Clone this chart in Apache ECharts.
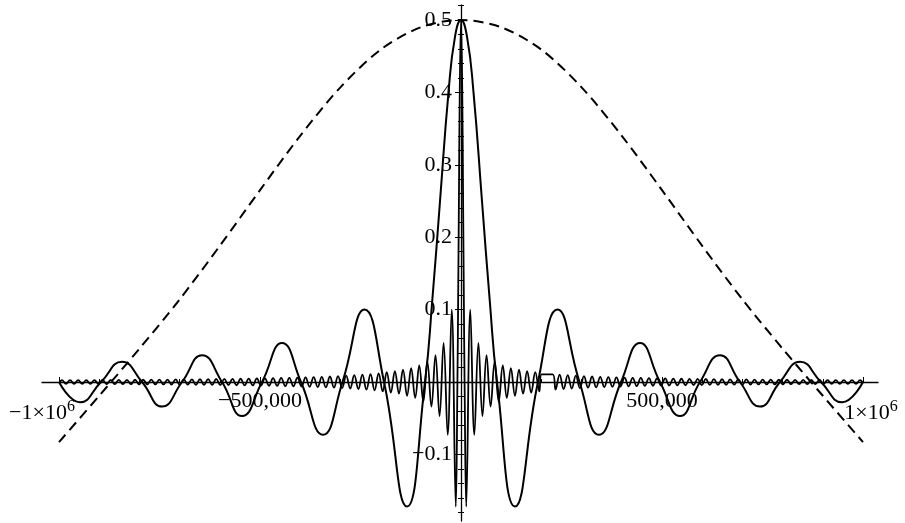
<!DOCTYPE html>
<html>
<head>
<meta charset="utf-8">
<script src="https://cdn.jsdelivr.net/npm/echarts@6/dist/echarts.min.js"></script>
<style>
  html, body { margin: 0; padding: 0; background: #ffffff; }
  #chart { width: 905px; height: 523px; }
</style>
</head>
<body>
<div id="chart"></div>
<script>
// ---- broad dashed curve ----
const dashedX = [-1000000, -900000, -800000, -700000, -600000, -500000, -400000, -300000, -200000, -100000, 0,
                 100000, 200000, 300000, 400000, 500000, 600000, 700000, 800000, 900000, 1000000];
const dashedY = [-0.083, -0.019, 0.046, 0.114, 0.188, 0.265, 0.34, 0.407, 0.459, 0.49, 0.5,
                 0.49, 0.459, 0.407, 0.34, 0.265, 0.188, 0.114, 0.046, -0.019, -0.083];

// ---- medium solid curve ----
const midX = [-1000000, -947800, -895500, -843300, -793500, -743800, -694000, -644300, -594500,
              -544800, -495000, -445300, -398000, -343300, -294800, -240000, -191500, -134300,
              -89600, -71400, -52200, -31100, -14900, 0,
              14900, 31100, 52200, 71400, 89600,
              134300, 191500, 240000, 294800, 343300, 398000, 445300, 495000, 544800,
              594500, 644300, 694000, 743800, 793500, 843300, 895500, 947800, 1000000];
const midY = [0, -0.028, 0, 0.028, 0, -0.034, 0, 0.037, 0,
              -0.047, 0, 0.054, 0, -0.073, 0, 0.1, 0, -0.172,
              0, 0.113, 0.25, 0.4, 0.477, 0.5,
              0.477, 0.4, 0.25, 0.113, 0,
              -0.172, 0, 0.1, 0, -0.073, 0, 0.054, 0, -0.047,
              0, 0.037, 0, -0.034, 0, 0.028, 0, -0.028, 0];

// ---- fast solid curve: central lobe ----
const fastCenterX = [-8900, -7100, -5200, -3100, 0, 3100, 5200, 7100, 8900];
const fastCenterY = [0, 0.113, 0.25, 0.4, 0.5, 0.4, 0.25, 0.113, 0];

// ---- fast solid curve: right side, turning points from the centre outwards ----
const fastRightX = [13000, 23100, 33200, 43300, 53400, 63500, 73600, 83700, 93800, 103900,
  114000, 124100, 134200, 144300, 154400, 164500, 174600, 184700, 194800,
  200300, 228000,
  235200, 245300, 255400, 265500, 275600, 285700, 295800, 305900, 316000, 326100,
  336200, 346300, 356400, 366500, 376600, 386700, 396800, 406900, 417000, 427100,
  437200, 447300, 457400, 467500, 477600, 487700, 497800, 507900, 518000, 528100,
  538200, 548300, 558400, 568500, 578600, 588700, 598800, 608900, 619000, 629100,
  639200, 649300, 659400, 669500, 679600, 689700, 699800, 709900, 720000, 730100,
  740200, 750300, 760400, 770500, 780600, 790700, 800800, 810900, 821000, 831100,
  841200, 851300, 861400, 871500, 881600, 891700, 901800, 911900, 922000, 932100,
  942200, 952300, 962400, 972500, 982600, 992700, 1000000];
const fastRightY = [-0.172, 0.1, -0.073, 0.054, -0.047, 0.037, -0.034, 0.028, -0.027, 0.023,
  -0.022, 0.019, -0.019, 0.017, -0.016, 0.015, -0.0145, 0.0135, -0.013,
  0.0105, 0.0105,
  -0.0106, 0.0101, -0.0097, 0.0094, -0.009, 0.0087, -0.0084, 0.0081, -0.0079, 0.0076,
  -0.0074, 0.0072, -0.007, 0.0068, -0.0066, 0.0064, -0.0063, 0.0061, -0.006, 0.0058,
  -0.0057, 0.0056, -0.0054, 0.0053, -0.0052, 0.0051, -0.005, 0.0049, -0.0048, 0.0047,
  -0.0046, 0.0045, -0.0045, 0.0044, -0.0043, 0.0042, -0.0042, 0.0041, -0.004, 0.004,
  -0.0039, 0.0038, -0.0038, 0.0037, -0.0037, 0.0036, -0.0036, 0.0035, -0.0035, 0.0034,
  -0.0034, 0.0033, -0.0033, 0.0032, -0.0032, 0.0031, -0.0031, 0.0031, -0.003, 0.003,
  -0.003, 0.0029, -0.0029, 0.0029, -0.0028, 0.0028, -0.0028, 0.0027, -0.0027, 0.0027,
  -0.0026, 0.0026, -0.0026, 0.0026, -0.0025, 0.0025, -0.0016];

// ---- fast solid curve: left side, turning points from the centre outwards ----
const fastLeftX = [-13000, -23100, -33200, -43300, -53400, -63500, -73600, -83700, -93800, -103900,
  -114000, -124100, -134200, -144300, -154400, -164500, -174600, -184700, -194800, -204900,
  -215000, -225100, -235200, -245300, -255400, -265500, -275600, -285700, -295800, -305900,
  -316000, -326100, -336200, -346300, -356400, -366500, -376600, -386700, -396800, -406900,
  -417000, -427100, -437200, -447300, -457400, -467500, -477600, -487700, -497800, -507900,
  -518000, -528100, -538200, -548300, -558400, -568500, -578600, -588700, -598800, -608900,
  -619000, -629100, -639200, -649300, -659400, -669500, -679600, -689700, -699800, -709900,
  -720000, -730100, -740200, -750300, -760400, -770500, -780600, -790700, -800800, -810900,
  -821000, -831100, -841200, -851300, -861400, -871500, -881600, -891700, -901800, -911900,
  -922000, -932100, -942200, -952300, -962400, -972500, -982600, -992700, -1000000];
const fastLeftY = [-0.172, 0.1, -0.073, 0.054, -0.047, 0.037, -0.034, 0.028, -0.027, 0.023,
  -0.022, 0.019, -0.019, 0.017, -0.016, 0.015, -0.0145, 0.0135, -0.013, 0.012,
  -0.0115, 0.011, -0.0106, 0.0101, -0.0097, 0.0094, -0.009, 0.0087, -0.0084, 0.0081,
  -0.0079, 0.0076, -0.0074, 0.0072, -0.007, 0.0068, -0.0066, 0.0064, -0.0063, 0.0061,
  -0.006, 0.0058, -0.0057, 0.0056, -0.0054, 0.0053, -0.0052, 0.0051, -0.005, 0.0049,
  -0.0048, 0.0047, -0.0046, 0.0045, -0.0045, 0.0044, -0.0043, 0.0042, -0.0042, 0.0041,
  -0.004, 0.004, -0.0039, 0.0038, -0.0038, 0.0037, -0.0037, 0.0036, -0.0036, 0.0035,
  -0.0035, 0.0034, -0.0034, 0.0033, -0.0033, 0.0032, -0.0032, 0.0031, -0.0031, 0.0031,
  -0.003, 0.003, -0.003, 0.0029, -0.0029, 0.0029, -0.0028, 0.0028, -0.0028, 0.0027,
  -0.0027, 0.0027, -0.0026, 0.0026, -0.0026, 0.0026, -0.0025, 0.0025, -0.0016];

// ---- axes ----
const xRange = [-1042300, 1037300];
const yRange = [-0.192, 0.5207];
const xTickValues = [-1000000, -500000, 500000, 1000000];
const xTickText = ['−1×10^6', '−500,000', '500,000', '1×10^6'];
const xMinorValues = [-900000, -800000, -700000, -600000, -400000, -300000, -200000, -100000,
                      100000, 200000, 300000, 400000, 600000, 700000, 800000, 900000];
const yTickValues = [-0.1, 0.1, 0.2, 0.3, 0.4, 0.5];
const yTickText = ['−0.1', '0.1', '0.2', '0.3', '0.4', '0.5'];
const yMinorValues = [-0.18, -0.16, -0.14, -0.12, -0.08, -0.06, -0.04, -0.02,
                      0.02, 0.04, 0.06, 0.08, 0.12, 0.14, 0.16, 0.18, 0.22, 0.24, 0.26, 0.28,
                      0.32, 0.34, 0.36, 0.38, 0.42, 0.44, 0.46, 0.48, 0.52];

function pairs(xs, ys) {
  return xs.map((x, i) => [x, ys[i]]);
}

const fastData = pairs(fastLeftX, fastLeftY).reverse()
  .concat(pairs(fastCenterX, fastCenterY))
  .concat(pairs(fastRightX, fastRightY));

const FONT = '"Liberation Serif", "Times New Roman", Times, serif';
const INK = '#000000';
const GRID = { left: 42, right: 27, top: 5, bottom: 2 };

// tick labels with a power of ten get a raised exponent and sit a little lower
function xLabel(val) {
  const i = xTickValues.findIndex(v => Math.abs(v - val) < 1);
  if (i < 0) return '';
  const t = xTickText[i];
  if (t.indexOf('^') >= 0) {
    const parts = t.split('^');
    return val < 0
      ? '{m|' + parts[0] + '}{s|' + parts[1] + '}{gl| }'
      : '{gr| }{m|' + parts[0] + '}{s|' + parts[1] + '}';
  }
  return '{n|' + t + '}';
}

function yLabel(val) {
  const i = yTickValues.findIndex(v => Math.abs(v - val) < 1e-6);
  return i < 0 ? '' : yTickText[i];
}

// extra axes that only carry tick marks
function tickAxis(range, position, ticks, len, inside, offset) {
  return {
    type: 'value', min: range[0], max: range[1], position: position, offset: offset,
    axisLine: { show: false, onZero: false },
    axisTick: { show: true, customValues: ticks, inside: inside, length: len,
                lineStyle: { color: INK, width: 1 } },
    axisLabel: { show: false },
    splitLine: { show: false }
  };
}

function buildOption(xOffset, yOffset) {
  return {
    animation: false,
    backgroundColor: '#ffffff',
    grid: Object.assign({ containLabel: false, outerBoundsMode: 'none' }, GRID),
    xAxis: [
      {
        type: 'value', min: xRange[0], max: xRange[1], position: 'bottom', offset: xOffset,
        axisLine: { show: true, onZero: false, lineStyle: { color: INK, width: 1.3 } },
        axisTick: { show: true, customValues: xTickValues, inside: true, length: 5,
                    lineStyle: { color: INK, width: 1 } },
        axisLabel: {
          show: true, customValues: xTickValues, formatter: xLabel, margin: 8,
          color: INK, fontFamily: FONT, fontSize: 22,
          rich: {
            n: { fontFamily: FONT, fontSize: 22, lineHeight: 22, color: INK },
            m: { fontFamily: FONT, fontSize: 22, lineHeight: 22, color: INK, verticalAlign: 'bottom' },
            s: { fontFamily: FONT, fontSize: 16, lineHeight: 16, color: INK, verticalAlign: 'middle' },
            gl: { width: 34, fontSize: 22, lineHeight: 34 },
            gr: { width: 16, fontSize: 22, lineHeight: 34 }
          }
        },
        splitLine: { show: false }
      },
      tickAxis(xRange, 'bottom', xMinorValues, 3, true, xOffset)
    ],
    yAxis: [
      {
        type: 'value', min: yRange[0], max: yRange[1], position: 'left', offset: yOffset,
        axisLine: { show: true, onZero: false, lineStyle: { color: INK, width: 1.3 } },
        axisTick: { show: true, customValues: yTickValues, inside: false, length: 6,
                    lineStyle: { color: INK, width: 1 } },
        axisLabel: {
          show: true, customValues: yTickValues, formatter: yLabel, margin: 9,
          color: INK, fontFamily: FONT, fontSize: 22
        },
        splitLine: { show: false }
      },
      tickAxis(yRange, 'left', yTickValues, 3, true, yOffset),
      tickAxis(yRange, 'left', yMinorValues, 3, false, yOffset),
      tickAxis(yRange, 'left', yMinorValues, 3, true, yOffset)
    ],
    series: [
      {
        name: 'broad', type: 'line', xAxisIndex: 0, yAxisIndex: 0,
        data: pairs(dashedX, dashedY), symbol: 'none', smooth: 0.3, silent: true,
        lineStyle: { color: INK, width: 2, type: [10, 6] }
      },
      {
        name: 'medium', type: 'line', xAxisIndex: 0, yAxisIndex: 0,
        data: pairs(midX, midY), symbol: 'none', smooth: 0.5, silent: true,
        lineStyle: { color: INK, width: 2 }
      },
      {
        name: 'fast', type: 'line', xAxisIndex: 0, yAxisIndex: 0,
        data: fastData, symbol: 'none', smooth: 0.4, silent: true,
        lineStyle: { color: INK, width: 1.8 }
      }
    ]
  };
}

const chart = echarts.init(document.getElementById('chart'), null, { renderer: 'canvas' });
chart.setOption(buildOption(0, 0));

// move both axes so that they cross at the origin, using the axes' own scales
const originX = chart.convertToPixel({ xAxisIndex: 0 }, 0);
const originY = chart.convertToPixel({ yAxisIndex: 0 }, 0);
const gridBottom = chart.getHeight() - GRID.bottom;
chart.setOption(buildOption(originY - gridBottom, GRID.left - originX), { notMerge: true });
</script>
</body>
</html>
